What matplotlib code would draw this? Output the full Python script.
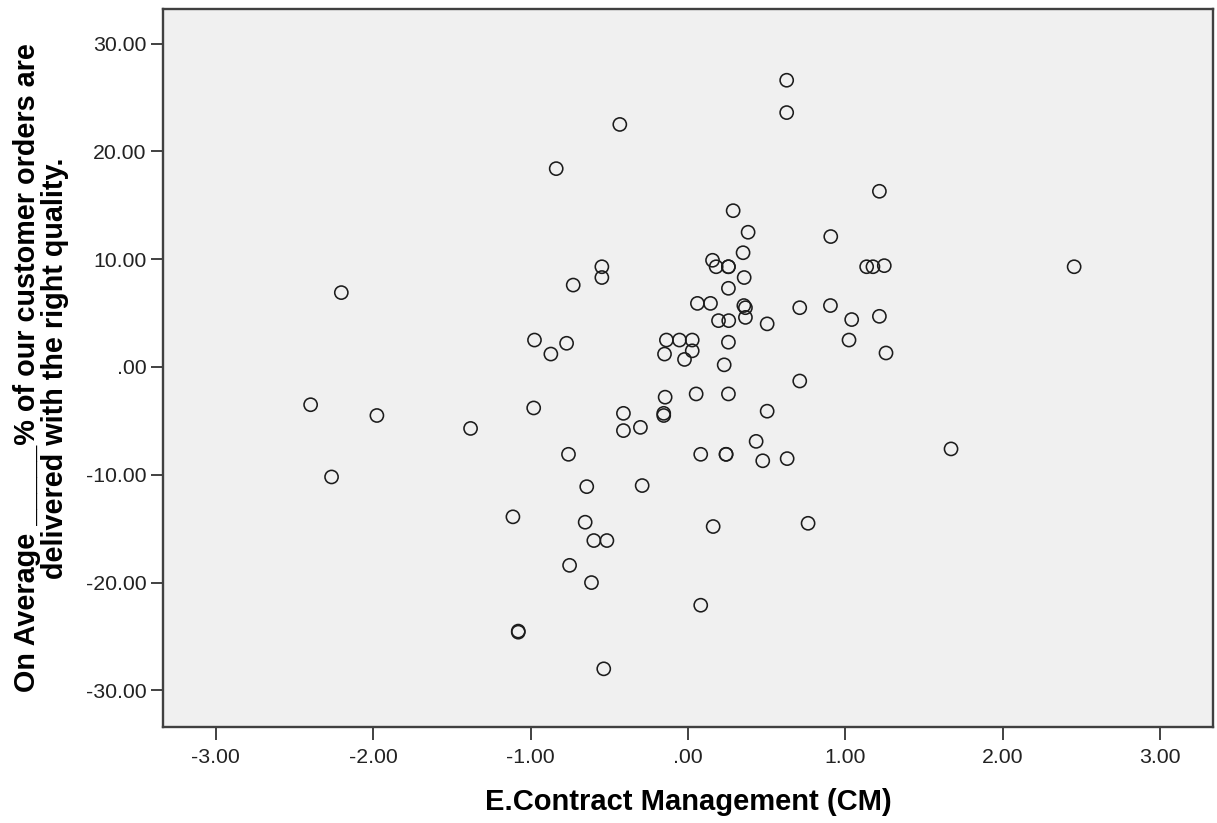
import matplotlib
matplotlib.use("Agg")
import matplotlib.pyplot as plt
from matplotlib.ticker import FixedLocator, FuncFormatter

# Contract management score vs. % orders delivered with the right quality
cm_score = [
    0.627, 0.627, -0.433, -0.837, 1.216, 0.287, 0.382, 0.907, 0.350, 0.156,
    0.179, 0.257, 0.257, -0.547, -0.547, 1.135, 1.175, 1.247, 2.453, -0.729,
    0.357, 0.257, -2.202, 0.060, 0.143, 0.355, 0.365, 0.365, 0.710, 0.905,
    0.194, 0.259, 0.503, 1.040, 1.216, 1.023, 1.258, 0.257, 0.230, 0.710,
    -0.975, -0.871, -0.771, -0.137, -0.054, 0.027, -0.149, 0.027, -0.022, -0.145,
    0.052, 0.257, -0.980, -0.410, -0.154, -0.154, -0.410, -0.302, 0.503, 0.433,
    -0.759, 0.081, 0.242, 0.242, 0.475, 0.630, -0.643, -0.291, -0.653, -0.598,
    -0.515, 0.160, 0.763, -0.752, -0.613, 0.081, -0.535, -2.397, -1.976, -1.381,
    -2.264, -1.112, -1.078, -1.078, 1.671,
]
quality_pct = [
    26.6, 23.6, 22.5, 18.4, 16.3, 14.5, 12.5, 12.1, 10.6, 9.9,
    9.3, 9.3, 9.3, 9.3, 8.3, 9.3, 9.3, 9.4, 9.3, 7.6,
    8.3, 7.3, 6.9, 5.9, 5.9, 5.7, 5.5, 4.6, 5.5, 5.7,
    4.3, 4.3, 4.0, 4.4, 4.7, 2.5, 1.3, 2.3, 0.2, -1.3,
    2.5, 1.2, 2.2, 2.5, 2.5, 2.5, 1.2, 1.5, 0.7, -2.8,
    -2.5, -2.5, -3.8, -4.3, -4.3, -4.5, -5.9, -5.6, -4.1, -6.9,
    -8.1, -8.1, -8.1, -8.1, -8.7, -8.5, -11.1, -11.0, -14.4, -16.1,
    -16.1, -14.8, -14.5, -18.4, -20.0, -22.1, -28.0, -3.5, -4.5, -5.7,
    -10.2, -13.9, -24.6, -24.5, -7.6,
]

x_ticks = [-3, -2, -1, 0, 1, 2, 3]
y_ticks = [-30, -20, -10, 0, 10, 20, 30]

plt.rcParams['font.family'] = ['Liberation Sans', 'DejaVu Sans']

fig = plt.figure(figsize=(12.17, 8.23), dpi=100)
ax = fig.add_axes([0.1339, 0.1166, 0.8628, 0.873])
ax.set_facecolor('#f0f0f0')

ax.scatter(cm_score, quality_pct, s=90, facecolors='none',
           edgecolors='#1c1c1c', linewidths=1.15, zorder=3)

ax.set_xlim(-3.335, 3.335)
ax.set_ylim(-33.4, 33.25)


def spss_fmt(v, pos):
    s = f"{v:.2f}"
    if s.startswith("0."):
        s = s[1:]
    elif s.startswith("-0."):
        s = "-" + s[2:]
    return s


ax.xaxis.set_major_locator(FixedLocator(x_ticks))
ax.yaxis.set_major_locator(FixedLocator(y_ticks))
ax.xaxis.set_major_formatter(FuncFormatter(spss_fmt))
ax.yaxis.set_major_formatter(FuncFormatter(spss_fmt))
ax.tick_params(axis='both', direction='out', length=9, width=1.3,
               color='#333333', labelsize=15.3, labelcolor='#222222')
ax.tick_params(axis='x', pad=6)
ax.tick_params(axis='y', pad=3)

for sp in ax.spines.values():
    sp.set_color('#404040')
    sp.set_linewidth(1.7)

ax.set_xlabel("E.Contract Management (CM)", fontsize=21, fontweight='bold',
              va='baseline')
ax.xaxis.set_label_coords(0.5, -0.116)

ax.set_ylabel("On Average _____% of our customer orders are\n"
              "delivered with the right quality.",
              fontsize=20.7, fontweight='bold', ha='center', va='center',
              multialignment='center', linespacing=1.0)
ax.yaxis.set_label_coords(-0.116, 0.5)

fig.savefig("out.png", dpi=100)
